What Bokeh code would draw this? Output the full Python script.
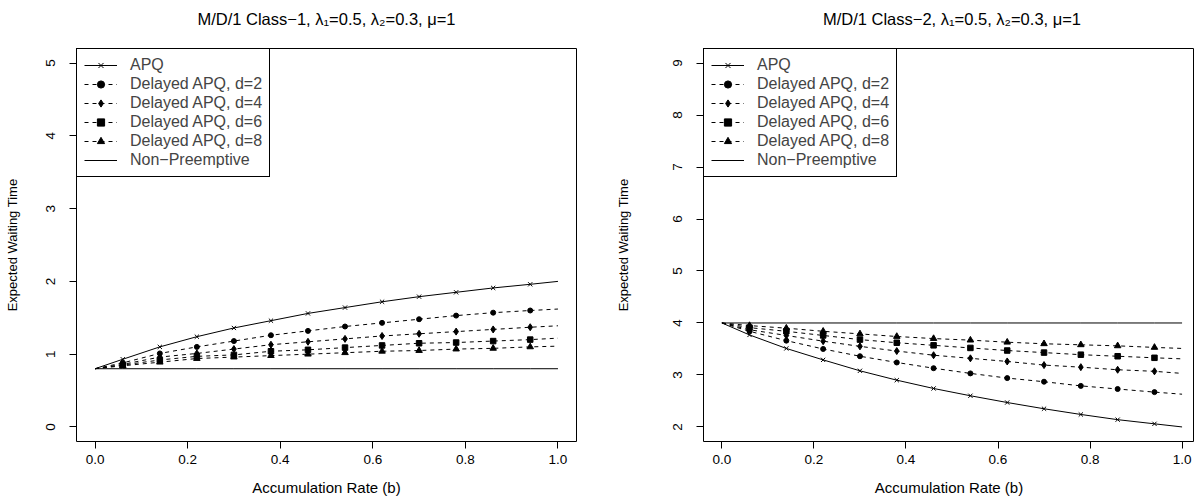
from bokeh.plotting import figure
from bokeh.layouts import row, column
from bokeh.models import Range1d, Legend, LegendItem, FixedTicker
from bokeh.core.properties import value
from bokeh.embed import file_html
from bokeh.resources import INLINE

# ---------------- data ----------------
b_values = [0.0, 0.06, 0.14, 0.22, 0.30, 0.38, 0.46, 0.54, 0.62, 0.70, 0.78, 0.86, 0.94, 1.0]

series_labels = ["APQ", "Delayed APQ, d=2", "Delayed APQ, d=4",
                 "Delayed APQ, d=6", "Delayed APQ, d=8", "Non\u2212Preemptive"]

# Class-1 expected waiting times
c1_apq = [0.80, 0.93, 1.10, 1.24, 1.36, 1.46, 1.56, 1.64, 1.72, 1.79, 1.85, 1.91, 1.96, 2.00]
c1_d2 = [0.80, 0.88, 1.01, 1.10, 1.18, 1.26, 1.32, 1.38, 1.43, 1.48, 1.53, 1.57, 1.60, 1.62]
c1_d4 = [0.80, 0.86, 0.96, 1.01, 1.07, 1.13, 1.17, 1.21, 1.25, 1.28, 1.31, 1.34, 1.37, 1.39]
c1_d6 = [0.80, 0.85, 0.92, 0.97, 0.99, 1.04, 1.06, 1.09, 1.12, 1.15, 1.16, 1.18, 1.20, 1.22]
c1_d8 = [0.80, 0.84, 0.89, 0.94, 0.96, 0.98, 1.00, 1.02, 1.04, 1.05, 1.07, 1.08, 1.10, 1.11]
c1_np = [0.80, 0.80, 0.80, 0.80, 0.80, 0.80, 0.80, 0.80, 0.80, 0.80, 0.80, 0.80, 0.80, 0.80]

# Class-2 expected waiting times
c2_apq = [4.00, 3.77, 3.51, 3.29, 3.08, 2.90, 2.74, 2.60, 2.47, 2.35, 2.24, 2.14, 2.06, 2.00]
c2_d2 = [4.00, 3.84, 3.66, 3.50, 3.36, 3.24, 3.13, 3.03, 2.94, 2.87, 2.79, 2.73, 2.67, 2.63]
c2_d4 = [4.00, 3.87, 3.76, 3.65, 3.55, 3.46, 3.38, 3.32, 3.26, 3.19, 3.15, 3.10, 3.07, 3.03]
c2_d6 = [4.00, 3.91, 3.84, 3.76, 3.68, 3.62, 3.57, 3.52, 3.47, 3.43, 3.39, 3.36, 3.33, 3.31]
c2_d8 = [4.00, 3.95, 3.90, 3.84, 3.79, 3.74, 3.70, 3.67, 3.63, 3.60, 3.58, 3.56, 3.53, 3.51]
c2_np = [4.00, 4.00, 4.00, 4.00, 4.00, 4.00, 4.00, 4.00, 4.00, 4.00, 4.00, 4.00, 4.00, 4.00]

x_ticks = [0.0, 0.2, 0.4, 0.6, 0.8, 1.0]
x_tick_labels = ["0.0", "0.2", "0.4", "0.6", "0.8", "1.0"]
y1_ticks = [0, 1, 2, 3, 4, 5]
y2_ticks = [2, 3, 4, 5, 6, 7, 8, 9]

title1 = "M/D/1 Class\u22121, \u03bb\u2081=0.5, \u03bb\u2082=0.3, \u03bc=1"
title2 = "M/D/1 Class\u22122, \u03bb\u2081=0.5, \u03bb\u2082=0.3, \u03bc=1"
x_label = "Accumulation Rate (b)"
y_label = "Expected Waiting Time"

FONT = "Liberation Sans"
markers = ["x", "circle", "diamond", "square", "triangle", None]
marker_sizes = [6, 5, 7, 5.5, 6.5, 0]
dashes = ["solid", "4 4", "4 4", "4 4", "4 4", "solid"]

PANEL_W = 597
STRIP_H = 40
HEIGHT = 459          # main figure height (page height 499 - title strip)
FRAME_TOP = 8         # frame top inside the main figure (page y = 48)
FRAME_BOTTOM = 401    # frame bottom inside the main figure (page y = 441)


def make_title_strip(text, x_end):
    # the strip's frame is aligned (by the column layout) with the panel's frame,
    # so it uses the same x range; the title sits centred over the plot region
    s = figure(width=PANEL_W, height=STRIP_H, output_backend="svg", toolbar_location=None,
               x_range=Range1d(-0.04, x_end), y_range=Range1d(0, STRIP_H),
               min_border=0, x_axis_type=None, y_axis_type=None)
    s.grid.visible = False
    s.outline_line_color = None
    s.background_fill_color = "white"
    s.border_fill_color = "white"
    s.text(x=[0.5], y=[STRIP_H - 18], text=[text], text_align="center",
           text_baseline="middle", text_font=value(FONT), text_font_size="16.5px",
           text_color="black")
    return s


def make_panel(series, x_end, y_start, y_end, y_ticks, min_left, right_border, ylab_standoff):
    p = figure(width=PANEL_W, height=HEIGHT, output_backend="svg", toolbar_location=None,
               x_range=Range1d(-0.04, x_end), y_range=Range1d(y_start, y_end),
               min_border_left=min_left, min_border_right=right_border,
               min_border_top=FRAME_TOP, min_border_bottom=HEIGHT - FRAME_BOTTOM)
    p.grid.visible = False
    p.outline_line_color = "black"
    p.outline_line_width = 1
    p.outline_line_alpha = 1
    p.background_fill_color = "white"
    p.border_fill_color = "white"

    for ax in (p.xaxis[0], p.yaxis[0]):
        ax.axis_line_color = None
        ax.major_tick_line_color = "black"
        ax.major_tick_out = 7
        ax.major_tick_in = 0
        ax.minor_tick_line_color = None
        ax.major_label_text_font = FONT
        ax.major_label_text_font_size = "13.5px"
        ax.major_label_text_color = "black"
        ax.axis_label_text_font = FONT
        ax.axis_label_text_font_style = "normal"
        ax.axis_label_text_color = "black"

    p.xaxis.ticker = FixedTicker(ticks=x_ticks)
    p.xaxis.major_label_overrides = dict(zip(x_ticks, x_tick_labels))
    p.xaxis.axis_label = x_label
    p.xaxis.axis_label_text_font_size = "15px"
    p.xaxis.major_label_standoff = 6
    p.xaxis.axis_label_standoff = 12

    p.yaxis.ticker = FixedTicker(ticks=y_ticks)
    p.yaxis.major_label_orientation = "vertical"
    p.yaxis.axis_label = y_label
    p.yaxis.axis_label_text_font_size = "13px"
    p.yaxis.major_label_standoff = 14
    p.yaxis.axis_label_standoff = ylab_standoff

    items = []
    for label, ys, mk, ms, dash in zip(series_labels, series, markers, marker_sizes, dashes):
        rs = []
        lr = p.line(b_values, ys, line_color="black", line_width=1, line_dash=dash)
        rs.append(lr)
        if mk is not None:
            if mk == "x":
                sr = p.scatter(b_values[1:-1], ys[1:-1], marker="x", size=ms,
                               line_color="black", line_width=1)
            else:
                sr = p.scatter(b_values[1:-1], ys[1:-1], marker=mk, size=ms,
                               fill_color="black", line_color="black")
            rs.append(sr)
        items.append(LegendItem(label=label, renderers=rs))

    legend = Legend(items=items, location="top_left", margin=0, padding=7, spacing=1,
                    glyph_width=33, glyph_height=18, label_height=18, label_standoff=13,
                    label_text_font=FONT, label_text_font_size="16px",
                    border_line_color="black", border_line_width=1, border_line_alpha=1,
                    background_fill_color="white", background_fill_alpha=1)
    p.add_layout(legend)
    return p


LEFT_X_END = 1.04
RIGHT_X_END = 1.027

left_title = make_title_strip(title1, LEFT_X_END)
right_title = make_title_strip(title2, RIGHT_X_END)
left = make_panel([c1_apq, c1_d2, c1_d4, c1_d6, c1_d8, c1_np],
                  LEFT_X_END, -0.2, 5.2, y1_ticks, 76, 21, 24)
right = make_panel([c2_apq, c2_d2, c2_d4, c2_d6, c2_d8, c2_np],
                   RIGHT_X_END, 1.72, 9.28, y2_ticks, 106, 0, 40)

layout = row(column(left_title, left), column(right_title, right))
open("out.html", "w").write(file_html(layout, INLINE))
